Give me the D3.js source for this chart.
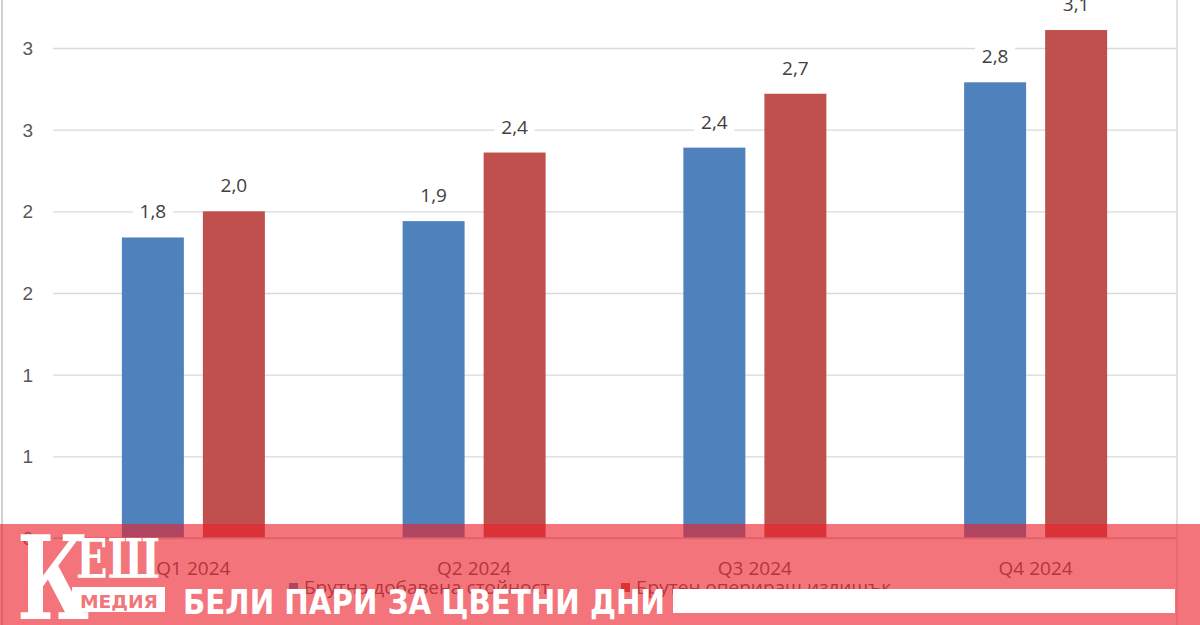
<!DOCTYPE html>
<html lang="bg">
<head>
<meta charset="UTF-8">
<title>Брутна добавена стойност</title>
<script src="https://cdnjs.cloudflare.com/ajax/libs/d3/7.8.5/d3.min.js"></script>
<style>
    body { margin: 0; padding: 0; background: #fff; overflow: hidden; }
    svg { display: block; font-family: "Open Sans", sans-serif; }
    .grid line { stroke: #d9d9d9; stroke-width: 1.3px; }
    .grid text { fill: #595959; font-size: 19px; }
    .val { fill: #404040; font-size: 19px; }
    .cat { fill: #595959; font-size: 19px; }
    .leg { fill: #595959; font-size: 19px; }
</style>
</head>
<body>
<div id="chart"></div>
<script>
const categories = ["Q1 2024", "Q2 2024", "Q3 2024", "Q4 2024"];
const seriesNames = ["Брутна добавена стойност", "Брутен опериращ излишък"];
const seriesColors = ["#4f81bd", "#c0504d"];
const gva = [1.84, 1.94, 2.39, 2.79];
const surplus = [2.0, 2.36, 2.72, 3.11];
const tickValues = [0, 0.5, 1, 1.5, 2, 2.5, 3];
const tickLabels = ["0", "1", "1", "2", "2", "3", "3"];

const W = 1200, H = 625;
const plot = { left: 53, right: 1176, top: 48, bottom: 538 };

const svg = d3.select("#chart").append("svg")
    .attr("width", W).attr("height", H);

const x0 = d3.scaleBand().domain(categories).range([plot.left, plot.right]).padding(0);
const x1 = d3.scaleBand().domain(seriesNames).range([0, x0.bandwidth()])
    .paddingInner(0.235).paddingOuter(0.85);
const y = d3.scaleLinear().domain([0, 3]).range([plot.bottom, plot.top]);

// chart borders
svg.append("line").attr("x1", 2).attr("x2", 2).attr("y1", 0).attr("y2", H)
    .attr("stroke", "#d0d0d0").attr("stroke-width", 2);
svg.append("line").attr("x1", plot.right + 1).attr("x2", plot.right + 1).attr("y1", 0).attr("y2", H)
    .attr("stroke", "#d9d9d9").attr("stroke-width", 1.5);

// gridlines + y labels
const yAxis = d3.axisLeft(y)
    .tickValues(tickValues)
    .tickFormat((d, i) => tickLabels[i])
    .tickSize(-(plot.right - plot.left))
    .tickPadding(20);
const g = svg.append("g").attr("class", "grid")
    .attr("transform", `translate(${plot.left},0)`)
    .call(yAxis);
g.select(".domain").remove();
g.selectAll("text").attr("dy", "0.35em");

const rows = categories.map((c, i) => ({ cat: c, vals: [gva[i], surplus[i]] }));

const groups = svg.selectAll(".cat-g").data(rows).enter().append("g")
    .attr("transform", d => `translate(${x0(d.cat)},0)`);

const bars = groups.selectAll("g.bar").data(d => d.vals.map((v, k) => ({ name: seriesNames[k], v, k })))
    .enter().append("g").attr("class", "bar");

bars.append("rect")
    .attr("x", d => x1(d.name))
    .attr("width", x1.bandwidth())
    .attr("y", d => y(d.v))
    .attr("height", d => y(0) - y(d.v))
    .attr("fill", d => seriesColors[d.k]);

const fmt = v => v.toFixed(1).replace(".", ",");
bars.append("rect")
    .attr("x", d => x1(d.name) + x1.bandwidth() / 2 - 20)
    .attr("y", d => y(d.v) - 38)
    .attr("width", 40).attr("height", 24)
    .attr("fill", "#fff");
bars.append("text").attr("class", "val")
    .attr("x", d => x1(d.name) + x1.bandwidth() / 2)
    .attr("y", d => y(d.v) - 19)
    .attr("text-anchor", "middle")
    .text(d => fmt(d.v));

// x axis line
svg.append("line").attr("x1", plot.left).attr("x2", plot.right)
    .attr("y1", plot.bottom).attr("y2", plot.bottom)
    .attr("stroke", "#c8c8c8").attr("stroke-width", 1.5);

svg.selectAll(".cat").data(categories).enter().append("text")
    .attr("class", "cat")
    .attr("x", d => x0(d) + x0.bandwidth() / 2)
    .attr("y", 575)
    .attr("text-anchor", "middle")
    .text(d => d);

// legend
const legX = [289, 621];
const leg = svg.selectAll(".legend").data(seriesNames).enter().append("g")
    .attr("transform", (d, i) => `translate(${legX[i]},583)`);
leg.append("rect").attr("width", 9).attr("height", 9).attr("fill", (d, i) => seriesColors[i]);
leg.append("text").attr("class", "leg").attr("x", 15).attr("y", 11).text(d => d);

// site overlay band
svg.append("rect").attr("x", 0).attr("y", 524).attr("width", W).attr("height", H - 524)
    .attr("fill", "rgb(236,32,42)").attr("fill-opacity", 0.62);

// logo
const logo = svg.append("g").attr("fill", "#fff");
logo.append("text").attr("x", 17).attr("y", 619)
    .attr("font-family", "DejaVu Serif").attr("font-weight", "bold")
    .attr("font-size", 116).attr("textLength", 72).attr("lengthAdjust", "spacingAndGlyphs")
    .text("К");
logo.append("text").attr("x", 76).attr("y", 578)
    .attr("font-family", "DejaVu Serif").attr("font-weight", "bold")
    .attr("font-size", 54).attr("textLength", 84).attr("lengthAdjust", "spacingAndGlyphs")
    .text("ЕШ");
logo.append("rect").attr("x", 72).attr("y", 587).attr("width", 93).attr("height", 25);
logo.append("text").attr("x", 80).attr("y", 608)
    .attr("font-family", "DejaVu Sans").attr("font-weight", "bold")
    .attr("font-size", 18).attr("textLength", 78).attr("lengthAdjust", "spacingAndGlyphs")
    .attr("fill", "#f2757b")
    .text("МЕДИЯ");
logo.append("text").attr("x", 183).attr("y", 614)
    .attr("font-family", "DejaVu Sans").attr("font-weight", "bold")
    .attr("font-size", 33).attr("textLength", 482).attr("lengthAdjust", "spacingAndGlyphs")
    .text("БЕЛИ ПАРИ ЗА ЦВЕТНИ ДНИ");
logo.append("rect").attr("x", 673).attr("y", 589).attr("width", 502).attr("height", 24);
</script>
</body>
</html>
